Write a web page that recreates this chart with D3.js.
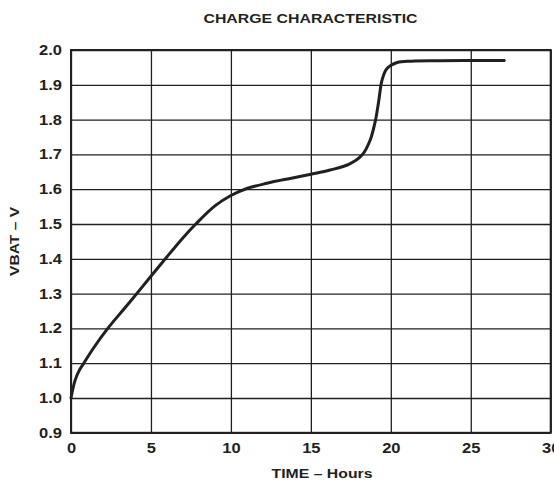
<!DOCTYPE html>
<html><head><meta charset="utf-8">
<script src="https://cdn.jsdelivr.net/npm/d3@7"></script>
<style>body{margin:0;background:#fff}svg{display:block}text{font-family:"Liberation Sans",Arial,Helvetica,sans-serif;font-weight:bold;fill:#231f20}</style>
</head><body>
<script>
const title = "CHARGE CHARACTERISTIC";
const xLabel = "TIME – Hours";
const yLabel = "VBAT – V";
const xTicks = [0, 5, 10, 15, 20, 25, 30];
const yTicks = [0.9, 1.0, 1.1, 1.2, 1.3, 1.4, 1.5, 1.6, 1.7, 1.8, 1.9, 2.0];
const timeHours = [0, 0.25, 0.5, 0.8, 1.4, 2.3, 3.3, 4.15, 5, 5.9, 6.9, 7.85, 9, 10, 11, 12.25, 13.7, 15, 16.2, 17.4, 18.2, 18.7, 19.05, 19.25, 19.45, 19.75, 20.4, 21.3, 23, 25, 27.1];
const vbat = [1.0, 1.05, 1.078, 1.1, 1.143, 1.2, 1.255, 1.302, 1.35, 1.4, 1.455, 1.502, 1.552, 1.582, 1.602, 1.617, 1.631, 1.643, 1.655, 1.672, 1.698, 1.74, 1.8, 1.855, 1.913, 1.946, 1.964, 1.968, 1.969, 1.97, 1.97];

const W = 554, H = 481;
const m = {left: 71, right: 3.3, top: 50, bottom: 48.2};
const svg = d3.select("body").append("svg").attr("width", W).attr("height", H);
const x = d3.scaleLinear().domain([0, 30]).range([m.left, W - m.right]);
const y = d3.scaleLinear().domain([0.9, 2.0]).range([H - m.bottom, m.top]);

// grid
svg.append("g")
  .attr("transform", `translate(0,${H - m.bottom})`)
  .call(d3.axisBottom(x).tickValues(xTicks).tickSize(-(H - m.bottom - m.top)).tickFormat(""))
  .call(g => g.select(".domain").remove())
  .call(g => g.selectAll("line").attr("stroke", "#231f20").attr("stroke-width", 1.3));
svg.append("g")
  .attr("transform", `translate(${m.left},0)`)
  .call(d3.axisLeft(y).tickValues(yTicks).tickSize(-(W - m.right - m.left)).tickFormat(""))
  .call(g => g.select(".domain").remove())
  .call(g => g.selectAll("line").attr("stroke", "#231f20").attr("stroke-width", 1.3));

// frame
svg.append("rect").attr("x", x(0)).attr("y", y(2.0))
  .attr("width", x(30) - x(0)).attr("height", y(0.9) - y(2.0))
  .attr("fill", "none").attr("stroke", "#231f20").attr("stroke-width", 2);

const SX = 1.18;
const styleTicks = g => g.selectAll("text")
  .style("font-size", "14px").style("font-family", "Liberation Sans, Arial, sans-serif")
  .style("font-weight", "bold").attr("fill", "#231f20");

// tick labels
const xa = svg.append("g").attr("transform", `translate(0,${H - m.bottom})`)
  .call(d3.axisBottom(x).tickValues(xTicks).tickSize(0).tickPadding(10.5).tickFormat(d3.format("d")));
xa.select(".domain").remove();
xa.call(styleTicks);
xa.selectAll("text").attr("transform", `scale(${SX},1)`);

const ya = svg.append("g").attr("transform", `translate(${m.left},0)`)
  .call(d3.axisLeft(y).tickValues(yTicks).tickSize(0).tickPadding(9).tickFormat(d3.format(".1f")));
ya.select(".domain").remove();
ya.call(styleTicks);
ya.selectAll("text").attr("x", -9 / SX).attr("transform", `scale(${SX},1)`);

// curve
const pts = timeHours.map((t, i) => [t, vbat[i]]);
svg.append("path").datum(pts)
  .attr("fill", "none").attr("stroke", "#231f20").attr("stroke-width", 3)
  .attr("stroke-linecap", "round")
  .attr("d", d3.line().x(d => x(d[0])).y(d => y(d[1])).curve(d3.curveCatmullRom.alpha(0.5)));

// titles
svg.append("text").attr("transform", `translate(310.5,23.3) scale(1.22,1)`)
  .attr("text-anchor", "middle").style("font-size", "13px").text(title);
svg.append("text").attr("transform", `translate(322,478) scale(1.17,1)`)
  .attr("text-anchor", "middle").style("font-size", "13.5px").text(xLabel);
svg.append("text").attr("transform", `translate(18.5,${(y(0.9) + y(2.0)) / 2}) rotate(-90) scale(1.2,1)`)
  .attr("text-anchor", "middle").style("font-size", "13px").text(yLabel);
</script>
</body></html>
